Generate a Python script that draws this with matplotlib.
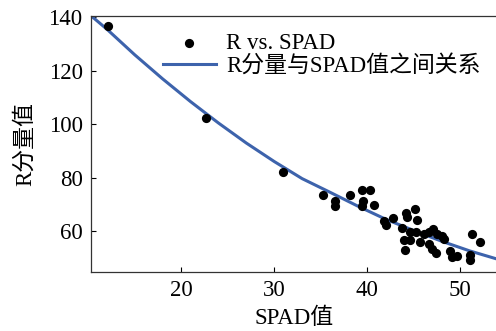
import matplotlib
matplotlib.use("Agg")
import matplotlib.pyplot as plt

plt.rcParams['font.family'] = ['Liberation Serif', 'Noto Sans CJK SC', 'DejaVu Sans']
plt.rcParams['font.size'] = 16.5

# Scatter data (SPAD, R)
spad = [12.15, 22.7, 30.9, 35.2, 36.5, 36.5, 38.1, 39.4, 40.3, 39.5, 39.4, 40.75,
        41.8, 42.0, 42.8, 43.7, 44.2, 44.3, 45.1, 45.3, 44.6, 43.9, 44.6, 44.1,
        45.2, 45.7, 46.1, 46.6, 47.1, 47.5, 46.6, 47.0, 47.4, 48.0, 48.2, 48.9,
        49.1, 49.6, 51.0, 51.0, 51.3, 52.1]
r_val = [136.8, 102.1, 82.2, 73.3, 71.1, 69.5, 73.5, 75.4, 75.4, 71.4, 69.5, 69.6,
         63.9, 62.4, 64.8, 61.2, 66.7, 65.2, 68.3, 64.3, 59.6, 56.8, 56.8, 53.1,
         59.6, 55.8, 59.0, 59.6, 60.8, 59.0, 55.2, 53.3, 51.9, 58.3, 57.1, 52.7,
         50.2, 50.5, 50.9, 49.0, 59.0, 55.8]

# Fitted relation curve
fit_x = [10.3, 12, 15, 18, 21, 24, 27, 30, 33, 36, 39, 42, 45, 48, 51, 54]
fit_y = [140.5, 135.5, 125.9, 116.9, 108.4, 100.4, 92.9, 86.0, 79.6, 74.5,
         69.3, 64.4, 60.2, 56.2, 52.6, 49.5]

xticks = [20, 30, 40, 50]
yticks = [60, 80, 100, 120, 140]

fig = plt.figure(figsize=(4.96, 3.31), dpi=100)
ax = fig.add_axes([91/496, 1-272/331, 1.003-91/496, (272-16)/331])

ax.scatter(spad, r_val, s=44, color='black', zorder=3, label='R vs. SPAD', linewidths=0)
ax.plot(fit_x, fit_y, color='#3D63AC', lw=2.2, zorder=2, label='R分量与SPAD值之间关系')

ax.set_xlim(10.3, 54.0)
ax.set_ylim(44.7, 140.4)
ax.set_xticks(xticks)
ax.set_yticks(yticks)
ax.tick_params(direction='in', length=3.5, width=0.8, top=False, right=False, labelsize=16.5)
ax.tick_params(axis='x', pad=6)
ax.tick_params(axis='y', pad=6)
for s in ax.spines.values():
    s.set_linewidth(0.9)
    s.set_color('#333333')

ax.set_xlabel('SPAD值', fontsize=16.5)
ax.set_ylabel('R分量值', fontsize=16.5)
ax.xaxis.set_label_coords(0.5, -0.14)
ax.yaxis.set_label_coords(-0.135, 0.5)

leg = ax.legend(loc='upper left', bbox_to_anchor=(163/496, 1-33/331),
                bbox_transform=fig.transFigure, frameon=False, borderpad=0,
                borderaxespad=0, handlelength=2.3, handletextpad=0.45,
                labelspacing=0.05, fontsize=16.5, scatterpoints=1)

fig.savefig('out.png', dpi=100)
